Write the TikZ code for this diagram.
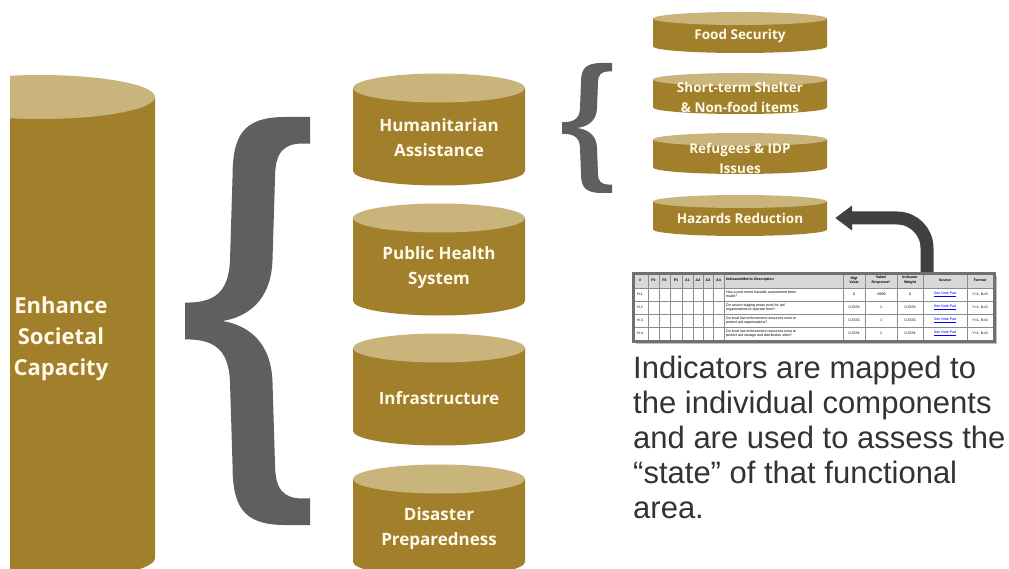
\documentclass[tikz,border=0pt]{standalone}
\usepackage{fontspec}
\setmainfont{Liberation Sans}
\newfontfamily\drumfont{Open Sans}
\usetikzlibrary{arrows.meta}

\definecolor{drumgold}{HTML}{A27F2B}
\definecolor{drumlight}{HTML}{C9B47C}
\definecolor{drumtext}{HTML}{FFF9EA}
\definecolor{bracegray}{HTML}{5F5F5F}
\definecolor{arrowgray}{HTML}{404040}
\definecolor{gridgray}{HTML}{8C8C8C}
\definecolor{headgray}{HTML}{D8D8D8}
\definecolor{notetext}{HTML}{333333}

% drum: name, cx, top cy, rx, ry, body height
\newcommand{\drum}[6]{%
  \fill[drumgold] ({#2-#4},#3) -- ({#2-#4},{#3+#6})
    arc[start angle=180,end angle=0,x radius=#4,y radius=#5] -- ({#2+#4},#3) -- cycle;
  \fill[drumlight] (#2,#3) ellipse[x radius=#4,y radius=#5];
  \coordinate (#1) at (#2,#3);}

\tikzset{
  drumlabel/.style={text=drumtext, align=center, inner sep=0pt},
  cell/.style={font=\fontsize{3.6}{4.2}\selectfont, inner sep=0pt, align=center},
  pointer/.style={arrowgray, line width=13pt, rounded corners=30pt,
    -{Triangle[length=17pt,width=24pt]}},
  brace shape/.pic={
    \fill[bracegray] (1,1) -- (0.8,1) .. controls (0.45,1) and (0.38,0.9) .. (0.38,0.7)
      -- (0.36,0.3) .. controls (0.35,0.12) and (0.2,0.09) .. (0,0.09) -- (0,-0.09)
      .. controls (0.2,-0.09) and (0.35,-0.12) .. (0.36,-0.3) -- (0.38,-0.7)
      .. controls (0.38,-0.9) and (0.45,-1) .. (0.8,-1) -- (1,-1) -- (1,-0.87) -- (0.94,-0.87)
      .. controls (0.78,-0.87) and (0.72,-0.82) .. (0.72,-0.7) -- (0.70,-0.3)
      .. controls (0.69,-0.1) and (0.5,-0.02) .. (0.30,0)
      .. controls (0.5,0.02) and (0.69,0.1) .. (0.70,0.3) -- (0.72,0.7)
      .. controls (0.72,0.82) and (0.78,0.87) .. (0.94,0.87) -- (1,0.87) -- cycle;}
}

\begin{document}
\begin{tikzpicture}[x=1pt,y=-1pt]
  \useasboundingbox (0,0) rectangle (1009,569);
  \fill[white] (0,0) rectangle (1009,569);
  \clip (0,0) rectangle (1009,569);

  % main capacity
  \begin{scope}
    \clip (10,0) rectangle (1009,569);
    \drum{cap-top}{40}{97}{115}{22}{461}
  \end{scope}
  \node[drumlabel, font=\drumfont\bfseries\fontsize{22}{31}\selectfont] (cap) at (61,339)
    {Enhance\\Societal\\Capacity};

  % functional areas
  \foreach \nm/\ty/\txt in {hum/88/{Humanitarian\\Assistance}, phs/218/{Public Health\\System},
      infra/348/Infrastructure, prep/479/{Disaster\\Preparedness}}{
    \drum{\nm-top}{439}{\ty}{86}{14.5}{83}
    \node[drumlabel, font=\drumfont\bfseries\fontsize{17}{25}\selectfont, minimum width=172pt]
      (\nm) at (439,\ty+50) {\txt};
  }

  % components
  \foreach \nm/\ty/\dy/\txt in {food/18.5/17.5/{Food Security},
      shelter/79.5/17.5/{Short-term Shelter\\\& Non-food items},
      refugee/139.5/18.5/{Refugees \& IDP\\Issues}, haz/201.5/16.5/{Hazards Reduction}}{
    \drum{\nm-top}{740}{\ty}{87}{6.5}{28}
    \node[drumlabel, font=\drumfont\bfseries\fontsize{13.5}{20}\selectfont, minimum width=174pt]
      (\nm) at (740,\ty+\dy) {\txt};
  }

  \pic[xscale=125,yscale=204] at (185,321) {brace shape};
  \pic[xscale=50,yscale=65] at (562,128) {brace shape};

  % indicator table
  \fill[black!25] (636,276) rectangle (997,344);
  \fill[headgray] (632,272) rectangle (993,288);
  \fill[white] (632,288) rectangle (993,340);
  \foreach \x in {648,659,670,682,693,703,713,724,843,865,897,923,967}
    \draw[gridgray, line width=0.6pt] (\x,272) -- (\x,340);
  \foreach \y in {288,301,314,327}
    \draw[gridgray, line width=0.6pt] (632,\y) -- (993,\y);
  \node[draw=gridgray!80!black, line width=3pt, minimum width=361pt, minimum height=68pt,
    anchor=north west, inner sep=0pt] (tbl) at (632,272) {};
  \foreach \x/\lab in {640/\#, 653.5/P1, 664.5/P2, 676/P3, 687.5/A1, 698/A2, 708/A3, 718.5/A4,
      854/{Wgt\\Value}, 881/{Value/\\Response*}, 910/{Indicator\\Weight}, 945/Source, 980/Format}
    \node[cell, font=\fontsize{3.6}{4.2}\selectfont\bfseries] at (\x,280) {\lab};
  \node[cell, font=\fontsize{3.6}{4.2}\selectfont\bfseries, anchor=west] at (726,280)
    {Indicator/Metric Description};
  \foreach \y/\id/\desc/\wgt/\val/\iw in {
      294.5/H.1/{Has a post event hazards assessment been\\made?}/0/-9999/0,
      307.5/H.2/{Do secure staging areas exist for aid\\organizations to operate from?}/0.3333/1/0.3333,
      320.5/H.3/{Do local law enforcement resources exist to\\protect aid organizations?}/0.3333/1/0.3333,
      333.5/H.4/{Do local law enforcement resources exist to\\protect aid storage and distribution sites?}/0.3334/1/0.3334}{
    \node[cell] at (640,\y) {\id};
    \node[cell, anchor=west, align=left] at (726,\y) {\desc};
    \node[cell] at (854,\y) {\wgt};
    \node[cell] at (881,\y) {\val};
    \node[cell] at (910,\y) {\iw};
    \node[cell, text=blue] at (945,\y) {\underline{See Note Pad}};
    \node[cell] at (980,\y) {Y=1, N=0};
  }

  % mapping arrow
  \coordinate (armx) at (927,0);
  \draw[pointer] (armx |- tbl.north) |- ([xshift=8pt]haz.east);

  \node[anchor=north west, align=left, inner sep=0pt, text=notetext,
    font=\fontsize{31}{35}\selectfont] (note) at (633,356)
    {Indicators are mapped to\\the individual components\\and are used to assess the\\“state” of that functional\\area.};
\end{tikzpicture}
\end{document}
